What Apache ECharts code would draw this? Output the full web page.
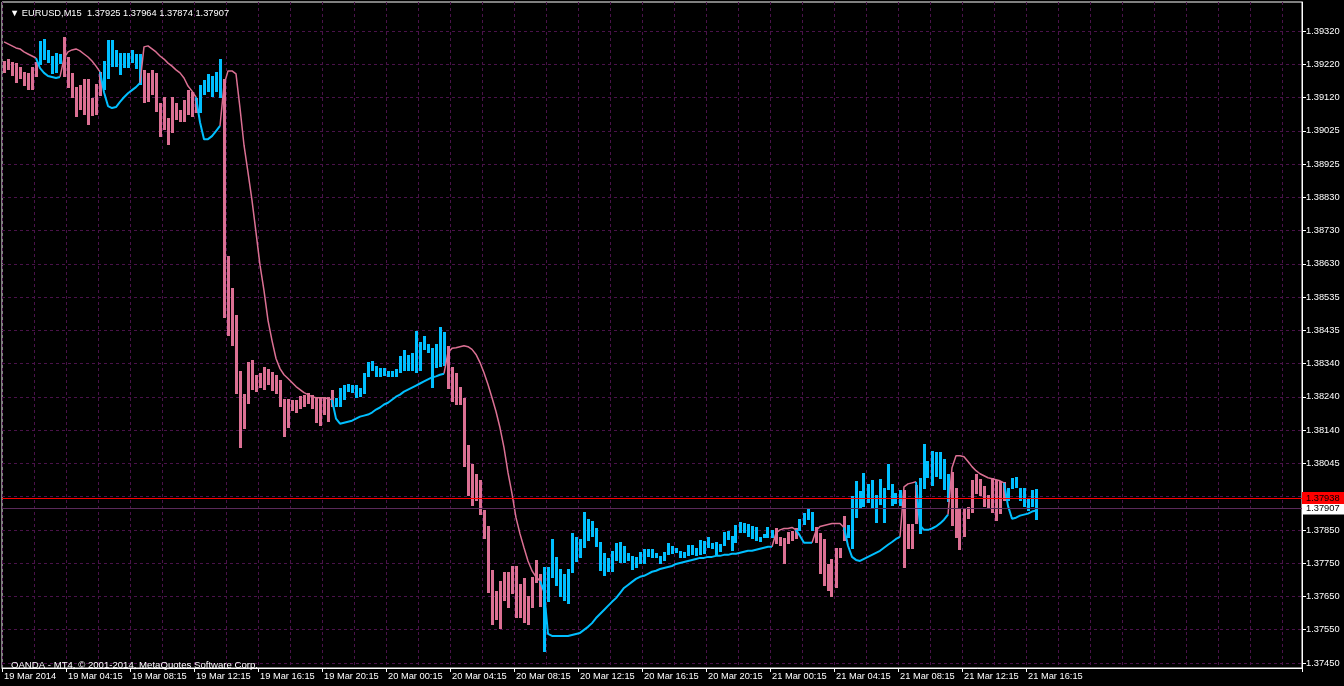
<!DOCTYPE html>
<html><head><meta charset="utf-8">
<script src="https://cdn.jsdelivr.net/npm/echarts@6/dist/echarts.min.js"></script>
<style>html,body{margin:0;padding:0;background:#000;}#c{width:1344px;height:686px;}</style>
</head><body><div id="c"></div>
<script>
// ---------------- data ----------------
const symbolName = 'EURUSD,M15';
const lastOHLC = [1.37925, 1.37964, 1.37874, 1.37907];
const askPrice = 1.37938;
const bidPrice = 1.37907;
const copyright = 'OANDA - MT4, \u00A9 2001-2014, MetaQuotes Software Corp.';

const xTickLabels = ['19 Mar 2014','19 Mar 04:15','19 Mar 08:15','19 Mar 12:15','19 Mar 16:15','19 Mar 20:15',
  '20 Mar 00:15','20 Mar 04:15','20 Mar 08:15','20 Mar 12:15','20 Mar 16:15','20 Mar 20:15',
  '21 Mar 00:15','21 Mar 04:15','21 Mar 08:15','21 Mar 12:15','21 Mar 16:15'];
const yTickLabels = ['1.37450','1.37550','1.37650','1.37750','1.37850','1.37945','1.38045','1.38140','1.38240',
  '1.38340','1.38435','1.38535','1.38630','1.38730','1.38830','1.38925','1.39025','1.39120','1.39220','1.39320'];

const lows = [
1.39196,1.39205,1.39187,1.39166,1.39178,1.39157,1.39145,1.39145,1.39184,1.39219,
1.39234,1.39225,1.39193,1.39196,1.39222,1.39184,1.39151,1.39122,1.39065,1.39086,
1.39071,1.39042,1.39068,1.39071,1.39127,1.39145,1.39178,1.39213,1.39213,1.39190,
1.39210,1.39210,1.39225,1.39207,1.39160,1.39107,1.39110,1.39130,1.39080,1.39006,
1.39027,1.38982,1.39018,1.39056,1.39050,1.39050,1.39071,1.39065,1.39077,1.39077,
1.39130,1.39139,1.39124,1.39139,1.39122,1.38472,1.38419,1.38389,1.38247,1.38087,
1.38143,1.38215,1.38259,1.38253,1.38265,1.38259,1.38274,1.38256,1.38247,1.38206,
1.38120,1.38146,1.38196,1.38190,1.38203,1.38206,1.38215,1.38203,1.38161,1.38152,
1.38184,1.38164,1.38206,1.38206,1.38206,1.38229,1.38253,1.38250,1.38235,1.38238,
1.38247,1.38295,1.38313,1.38295,1.38295,1.38298,1.38295,1.38295,1.38295,1.38307,
1.38315,1.38315,1.38315,1.38307,1.38315,1.38375,1.38366,1.38265,1.38322,1.38325,
1.38330,1.38262,1.38221,1.38212,1.38212,1.38031,1.37945,1.37915,1.37930,1.37889,
1.37817,1.37657,1.37562,1.37577,1.37552,1.37634,1.37613,1.37654,1.37583,1.37583,
1.37568,1.37562,1.37613,1.37687,1.37616,1.37482,1.37631,1.37702,1.37678,1.37645,
1.37634,1.37625,1.37717,1.37749,1.37761,1.37791,1.37812,1.37823,1.37794,1.37722,
1.37708,1.37719,1.37719,1.37752,1.37746,1.37746,1.37752,1.37725,1.37731,1.37743,
1.37743,1.37764,1.37761,1.37761,1.37743,1.37752,1.37770,1.37773,1.37776,1.37761,
1.37761,1.37767,1.37770,1.37767,1.37770,1.37773,1.37791,1.37788,1.37770,1.37779,
1.37797,1.37814,1.37782,1.37805,1.37835,1.37835,1.37823,1.37817,1.37812,1.37808,
1.37820,1.37820,1.37820,1.37803,1.37797,1.37743,1.37803,1.37812,1.37817,1.37841,
1.37857,1.37874,1.37841,1.37805,1.37714,1.37678,1.37663,1.37645,1.37672,1.37761,
1.37812,1.37820,1.37788,1.37880,1.37910,1.37912,1.37924,1.37910,1.37865,1.37918,
1.37865,1.37962,1.37915,1.37921,1.37915,1.37731,1.37788,1.37788,1.37862,1.37832,
1.37965,1.37998,1.37974,1.38001,1.37995,1.37962,1.37927,1.37854,1.37820,1.37785,
1.37823,1.37877,1.37895,1.37951,1.37945,1.37912,1.37910,1.37895,1.37871,1.37892,
1.37930,1.37930,1.37965,1.37968,1.37930,1.37912,1.37901,1.37912,1.37874];

const highs = [
1.39231,1.39237,1.39228,1.39225,1.39213,1.39199,1.39196,1.39213,1.39228,1.39290,
1.39296,1.39264,1.39246,1.39255,1.39252,1.39302,1.39243,1.39196,1.39154,1.39160,
1.39178,1.39178,1.39122,1.39163,1.39199,1.39231,1.39293,1.39293,1.39264,1.39255,
1.39255,1.39255,1.39264,1.39252,1.39252,1.39205,1.39196,1.39205,1.39196,1.39107,
1.39124,1.39062,1.39124,1.39107,1.39086,1.39116,1.39145,1.39139,1.39122,1.39160,
1.39175,1.39193,1.39187,1.39199,1.39237,1.39178,1.38653,1.38561,1.38481,1.38315,
1.38247,1.38342,1.38348,1.38301,1.38307,1.38325,1.38319,1.38310,1.38301,1.38286,
1.38232,1.38232,1.38229,1.38229,1.38241,1.38244,1.38250,1.38244,1.38235,1.38238,
1.38238,1.38238,1.38259,1.38235,1.38265,1.38274,1.38277,1.38274,1.38274,1.38265,
1.38307,1.38342,1.38345,1.38330,1.38322,1.38322,1.38315,1.38315,1.38319,1.38357,
1.38375,1.38360,1.38366,1.38431,1.38401,1.38419,1.38395,1.38383,1.38395,1.38443,
1.38428,1.38389,1.38325,1.38307,1.38268,1.38235,1.38096,1.38039,1.38010,1.37992,
1.37904,1.37854,1.37725,1.37663,1.37693,1.37719,1.37719,1.37737,1.37737,1.37684,
1.37702,1.37648,1.37705,1.37755,1.37714,1.37734,1.37734,1.37817,1.37764,1.37728,
1.37714,1.37728,1.37835,1.37823,1.37817,1.37898,1.37877,1.37871,1.37848,1.37808,
1.37776,1.37761,1.37782,1.37805,1.37808,1.37797,1.37776,1.37767,1.37764,1.37779,
1.37788,1.37788,1.37788,1.37776,1.37767,1.37779,1.37805,1.37797,1.37791,1.37782,
1.37779,1.37800,1.37800,1.37791,1.37814,1.37812,1.37823,1.37805,1.37808,1.37803,
1.37838,1.37841,1.37826,1.37857,1.37868,1.37865,1.37862,1.37854,1.37851,1.37823,
1.37832,1.37851,1.37844,1.37848,1.37823,1.37820,1.37838,1.37841,1.37848,1.37877,
1.37895,1.37907,1.37898,1.37851,1.37835,1.37817,1.37743,1.37758,1.37791,1.37791,
1.37886,1.37857,1.37945,1.37989,1.37960,1.38013,1.37980,1.37992,1.37948,1.37995,
1.37968,1.38039,1.37980,1.37954,1.37962,1.37962,1.37862,1.37862,1.37977,1.37998,
1.38099,1.38048,1.38078,1.38075,1.38075,1.38054,1.38010,1.38016,1.37968,1.37907,
1.37910,1.37912,1.37992,1.38010,1.37995,1.37974,1.37948,1.37998,1.37992,1.37989,
1.37986,1.37968,1.37998,1.38001,1.37968,1.37968,1.37939,1.37962,1.37964];

// trend state runs: 'd' = down (pink), 'u' = up (blue)
const trendRuns = [['d',9],['u',6],['d',10],['u',10],['d',14],['u',6],['d',28],['u',28],['d',24],
  ['u',58],['d',6],['u',4],['d',8],['u',14],['d',4],['u',8],['d',14],['u',8]];

const trendLine = [
1.39288,1.39282,1.39276,1.39270,1.39267,1.39258,1.39252,1.39246,1.39240,1.39210,
1.39196,1.39187,1.39184,1.39181,1.39184,1.39240,1.39258,1.39264,1.39267,1.39261,
1.39252,1.39243,1.39231,1.39216,1.39199,1.39139,1.39098,1.39092,1.39095,1.39110,
1.39124,1.39136,1.39145,1.39154,1.39166,1.39273,1.39276,1.39267,1.39258,1.39246,
1.39237,1.39225,1.39216,1.39205,1.39196,1.39181,1.39157,1.39142,1.39124,1.39050,
1.39000,1.39000,1.39009,1.39024,1.39039,1.39160,1.39202,1.39202,1.39193,1.39092,
1.38982,1.38902,1.38819,1.38724,1.38627,1.38552,1.38464,1.38404,1.38351,1.38321,
1.38303,1.38292,1.38280,1.38268,1.38259,1.38250,1.38244,1.38238,1.38235,1.38235,
1.38235,1.38232,1.38229,1.38173,1.38158,1.38161,1.38164,1.38167,1.38173,1.38179,
1.38182,1.38185,1.38191,1.38200,1.38206,1.38215,1.38220,1.38229,1.38238,1.38244,
1.38253,1.38259,1.38265,1.38271,1.38277,1.38283,1.38289,1.38295,1.38298,1.38303,
1.38306,1.38369,1.38381,1.38383,1.38386,1.38389,1.38386,1.38378,1.38363,1.38339,
1.38309,1.38274,1.38235,1.38194,1.38146,1.38087,1.38013,1.37951,1.37880,1.37832,
1.37791,1.37752,1.37723,1.37705,1.37693,1.37663,1.37536,1.37530,1.37530,1.37530,
1.37530,1.37530,1.37533,1.37536,1.37539,1.37548,1.37557,1.37568,1.37583,1.37595,
1.37607,1.37619,1.37631,1.37642,1.37657,1.37672,1.37681,1.37690,1.37699,1.37705,
1.37708,1.37714,1.37720,1.37723,1.37728,1.37731,1.37734,1.37737,1.37743,1.37746,
1.37749,1.37752,1.37755,1.37758,1.37761,1.37761,1.37764,1.37764,1.37767,1.37767,
1.37770,1.37770,1.37773,1.37773,1.37776,1.37779,1.37782,1.37782,1.37785,1.37788,
1.37791,1.37794,1.37794,1.37835,1.37844,1.37848,1.37848,1.37851,1.37844,1.37826,
1.37806,1.37806,1.37806,1.37841,1.37854,1.37857,1.37860,1.37863,1.37863,1.37863,
1.37851,1.37797,1.37764,1.37755,1.37752,1.37758,1.37764,1.37770,1.37776,1.37782,
1.37791,1.37800,1.37808,1.37817,1.37823,1.37971,1.37980,1.37983,1.37986,1.37857,
1.37844,1.37844,1.37848,1.37854,1.37863,1.37874,1.37889,1.38028,1.38063,1.38063,
1.38060,1.38046,1.38031,1.38019,1.38010,1.38004,1.37998,1.37995,1.37992,1.37989,
1.37983,1.37915,1.37877,1.37880,1.37886,1.37889,1.37892,1.37898,1.37901];

// ---------------- styles ----------------
const PINK = '#DB7093';
const BLUE = '#00BFFF';
const GRIDC = '#4a124a';
const FONT = '"Liberation Sans", Arial, sans-serif';
const FS = 9.3;
const TOTAL_SLOTS = 325;      // bars + empty right margin
const TICK_EVERY = 16;
const GRID_EVERY = 8;

// ---------------- build ----------------
const trend = [];
trendRuns.forEach(([s, n]) => { for (let k = 0; k < n; k++) trend.push(s); });
const categories = [];
for (let i = 0; i < TOTAL_SLOTS; i++) categories.push(String(i));

const barData = lows.map((lo, i) => [i, lo, highs[i]]);
function lineFor(state) {
  return trendLine.map((v, i) => (trend[i] === state || trend[i + 1] === state) ? v : null);
}

const yFirst = parseFloat(yTickLabels[0]);
const yLast = parseFloat(yTickLabels[yTickLabels.length - 1]);
const yStep = (yLast - yFirst) / (yTickLabels.length - 1);
const yTickValues = yTickLabels.map((_, k) => yFirst + k * yStep);
const pxPerStep = 632 / 19;  // pixel spacing of ticks in layout
const yMax = yLast + (29 / pxPerStep) * yStep;
const yMin = yFirst - (5 / pxPerStep) * yStep;

const xShow = (idx) => idx % TICK_EVERY === 0 && idx / TICK_EVERY < xTickLabels.length;

const chart = echarts.init(document.getElementById('c'), null, {renderer: 'canvas'});
chart.setOption({
  backgroundColor: '#000',
  animation: false,
  textStyle: {fontFamily: FONT},
  title: [
    {text: '\u25BC ' + symbolName + '  ' + lastOHLC.map(v => v.toFixed(5)).join(' '),
     left: 5, top: 4, textStyle: {color: '#ffffff', fontSize: FS, fontWeight: 'normal', fontFamily: FONT}},
    {text: copyright, left: 6, top: 655,
     textStyle: {color: '#ffffff', fontSize: 9.6, fontWeight: 'normal', fontFamily: FONT}}
  ],
  grid: {left: 2, right: 42, top: 2, bottom: 18, show: true, borderColor: '#ffffff', borderWidth: 1, backgroundColor: '#000'},
  xAxis: {
    type: 'category', data: categories, boundaryGap: true,
    axisLine: {show: true, lineStyle: {color: '#ffffff'}},
    axisTick: {show: true, interval: (i) => xShow(i), length: 4, lineStyle: {color: '#ffffff'}},
    axisLabel: {interval: (i) => xShow(i), formatter: (v, i) => xTickLabels[i / TICK_EVERY] || '',
      color: '#ffffff', fontSize: FS, align: 'left', margin: 4, fontFamily: FONT},
    splitLine: {show: true, interval: GRID_EVERY - 1, lineStyle: {color: GRIDC, type: [3, 3], width: 1}}
  },
  yAxis: {
    type: 'value', position: 'right', min: yMin, max: yMax, scale: true,
    axisLine: {show: true, lineStyle: {color: '#ffffff'}},
    axisTick: {show: true, customValues: yTickValues, length: 4, lineStyle: {color: '#ffffff'}},
    axisLabel: {customValues: yTickValues, color: '#ffffff', fontSize: FS, margin: 4, fontFamily: FONT,
      formatter: (v) => yTickLabels[Math.round((v - yFirst) / yStep)] || ''},
    splitLine: {show: true, lineStyle: {color: GRIDC, type: [3, 3], width: 1}}
  },
  series: [
    {
      type: 'custom', data: barData, encode: {x: 0, y: [1, 2]}, z: 3, silent: true,
      renderItem: (params, api) => {
        const i = api.value(0);
        const lo = api.coord([i, api.value(1)]);
        const hi = api.coord([i, api.value(2)]);
        const x = Math.round(lo[0] - 1.5);
        const y0 = Math.round(hi[1]);
        const y1 = Math.round(lo[1]);
        return {type: 'rect', shape: {x: x, y: y0, width: 3, height: Math.max(1, y1 - y0)},
          style: {fill: trend[i] === 'd' ? PINK : BLUE}};
      },
      markLine: {
        silent: true, symbol: 'none', animation: false, precision: 5,
        data: [
          {yAxis: bidPrice, lineStyle: {color: '#5a2a5a', type: 'solid', width: 1},
           label: {show: true, position: 'end', distance: 0, formatter: (p) => Number(p.value).toFixed(5),
             backgroundColor: '#ffffff', color: '#000000', fontSize: FS, padding: [2, 5, 1, 4], fontFamily: FONT}},
          {yAxis: askPrice, lineStyle: {color: '#ff0000', type: 'solid', width: 1},
           label: {show: true, position: 'end', distance: 0, formatter: (p) => Number(p.value).toFixed(5),
             backgroundColor: '#ff0000', color: '#000000', fontSize: FS, padding: [2, 5, 1, 4], fontFamily: FONT}}
        ]
      }
    },
    {type: 'line', data: lineFor('d'), showSymbol: false, connectNulls: false, z: 4, silent: true,
     lineStyle: {color: PINK, width: 1.5}},
    {type: 'line', data: lineFor('u'), showSymbol: false, connectNulls: false, z: 4, silent: true,
     lineStyle: {color: BLUE, width: 2}}
  ]
});
</script></body></html>
